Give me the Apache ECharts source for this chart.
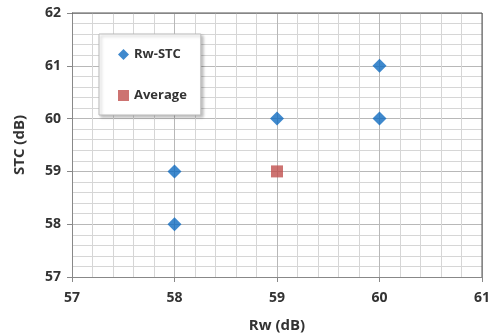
<!DOCTYPE html>
<html>
<head>
<meta charset="utf-8">
<script src="https://cdn.jsdelivr.net/npm/echarts@6/dist/echarts.min.js"></script>
<style>
  html, body { margin: 0; padding: 0; background: #fff; }
  #chart { width: 495px; height: 335px; }
</style>
</head>
<body>
<div id="chart"></div>
<script>
// Rw vs STC points
const rwStcX = [58, 58, 59, 60, 60];
const rwStcY = [58, 59, 60, 60, 61];
const avgX = [59];
const avgY = [59];

const blue = '#0f6cc0';
const red = '#c0504d';
const labelFont = '"Open Sans", "Liberation Sans", sans-serif';

const chart = echarts.init(document.getElementById('chart'));

const option = {
  animation: false,
  grid: { left: 72, right: 13, top: 13, bottom: 58, outerBoundsMode: 'none' },
  legend: {
    orient: 'vertical',
    left: 99,
    top: 34,
    itemGap: 28,
    itemWidth: 11,
    itemHeight: 11,
    padding: [14, 14, 13, 19],
    backgroundColor: '#fff',
    borderColor: '#bbb',
    borderWidth: 1,
    shadowColor: 'rgba(0,0,0,0.25)',
    shadowBlur: 3,
    shadowOffsetX: 2,
    shadowOffsetY: 2,
    textStyle: { fontFamily: labelFont, fontWeight: 'bold', fontSize: 13, color: '#333' },
    data: [
      { name: 'Rw-STC', icon: 'diamond' },
      { name: 'Average', icon: 'rect' }
    ]
  },
  xAxis: {
    type: 'value',
    min: 57, max: 61, interval: 1,
    minorTick: { show: false, splitNumber: 5 },
    minorSplitLine: { show: true, lineStyle: { color: '#d6d6d6', width: 1 } },
    splitLine: { show: true, lineStyle: { color: '#b8b8b8', width: 1 } },
    axisLine: { show: true, lineStyle: { color: '#888', width: 1 } },
    axisTick: { show: true, length: 5, lineStyle: { color: '#888' } },
    axisLabel: { margin: 14, fontFamily: labelFont, fontWeight: 'bold', fontSize: 14, color: '#333' },
    name: 'Rw (dB)',
    nameLocation: 'middle',
    nameGap: 41,
    nameTextStyle: { fontFamily: labelFont, fontWeight: 'bold', fontSize: 15, color: '#333' }
  },
  yAxis: {
    type: 'value',
    min: 57, max: 62, interval: 1,
    minorTick: { show: false, splitNumber: 5 },
    minorSplitLine: { show: true, lineStyle: { color: '#d6d6d6', width: 1 } },
    splitLine: { show: true, lineStyle: { color: '#b8b8b8', width: 1 } },
    axisLine: { show: true, lineStyle: { color: '#888', width: 1 } },
    axisTick: { show: true, length: 5, lineStyle: { color: '#888' } },
    axisLabel: { margin: 11, fontFamily: labelFont, fontWeight: 'bold', fontSize: 14, color: '#333' },
    name: 'STC (dB)',
    nameLocation: 'middle',
    nameGap: 45,
    nameTextStyle: { fontFamily: labelFont, fontWeight: 'bold', fontSize: 15, color: '#333' }
  },
  series: [
    {
      name: 'Rw-STC',
      type: 'scatter',
      symbol: 'diamond',
      symbolSize: [14, 14],
      itemStyle: { color: blue },
      data: rwStcX.map((x, i) => [x, rwStcY[i]])
    },
    {
      name: 'Average',
      type: 'scatter',
      symbol: 'rect',
      symbolSize: 12,
      itemStyle: { color: red },
      data: avgX.map((x, i) => [x, avgY[i]])
    }
  ],
  graphic: [
    {
      // dark frame on top and right of plot area like the original
      type: 'polyline',
      shape: { points: [[72, 13], [482, 13], [482, 277]] },
      style: { stroke: '#555', lineWidth: 1, fill: null },
      z: 10
    }
  ]
};

chart.setOption(option);
</script>
</body>
</html>
